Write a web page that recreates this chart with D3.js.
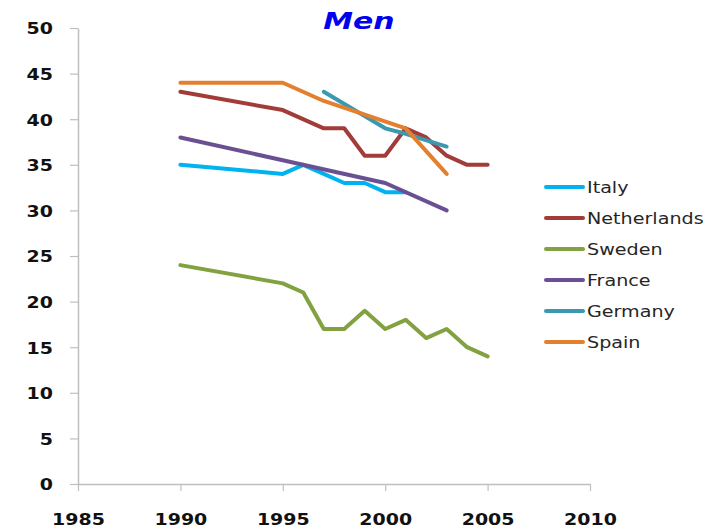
<!DOCTYPE html>
<html>
<head>
<meta charset="utf-8">
<script src="https://cdn.jsdelivr.net/npm/d3@7"></script>
<style>
  html, body { margin: 0; padding: 0; background: #fff; }
  svg { display: block; }
</style>
</head>
<body>
<script>
const seriesNames = ["Italy", "Netherlands", "Sweden", "France", "Germany", "Spain"];
const seriesColors = ["#00b2ef", "#a23c38", "#82a242", "#6a5092", "#3a98b0", "#e2802f"];

const italyYears = [1990, 1995, 1996, 1997, 1998, 1999, 2000, 2001];
const italyValues = [35, 34, 35, 34, 33, 33, 32, 32];

const netherlandsYears = [1990, 1995, 1997, 1998, 1999, 2000, 2001, 2002, 2003, 2004, 2005];
const netherlandsValues = [43, 41, 39, 39, 36, 36, 39, 38, 36, 35, 35];

const swedenYears = [1990, 1995, 1996, 1997, 1998, 1999, 2000, 2001, 2002, 2003, 2004, 2005];
const swedenValues = [24, 22, 21, 17, 17, 19, 17, 18, 16, 17, 15, 14];

const franceYears = [1990, 1995, 2000, 2003];
const franceValues = [38, 35.5, 33, 30];

const germanyYears = [1997, 2000, 2001, 2003];
const germanyValues = [43, 39, 38.4, 37];

const spainYears = [1990, 1995, 1997, 2001, 2003];
const spainValues = [44, 44, 42, 39, 34];

const xTicks = [1985, 1990, 1995, 2000, 2005, 2010];
const yTicks = [0, 5, 10, 15, 20, 25, 30, 35, 40, 45, 50];

const seriesYears = [italyYears, netherlandsYears, swedenYears, franceYears, germanyYears, spainYears];
const seriesValues = [italyValues, netherlandsValues, swedenValues, franceValues, germanyValues, spainValues];

const W = 709, H = 530;
const svg = d3.select("body").append("svg").attr("width", W).attr("height", H);

const x = d3.scaleLinear().domain([1985, 2010]).range([78, 590]);
const y = d3.scaleLinear().domain([0, 50]).range([484, 28]);

const axisColor = "#bfbfbf";
const tickFont = "'DejaVu Sans', Verdana, sans-serif";

// Y axis
const gy = svg.append("g").attr("transform", `translate(${x(1985)},0)`)
  .call(d3.axisLeft(y).tickValues(yTicks).tickSize(8).tickSizeOuter(0).tickFormat(d3.format("d")));
gy.select(".domain").attr("stroke", axisColor).attr("stroke-width", 1.5);
gy.selectAll(".tick line").attr("stroke", axisColor).attr("stroke-width", 1.2);
gy.selectAll(".tick text")
  .attr("x", null).attr("dy", "0.36em")
  .attr("transform", "translate(-25,0) scale(1.15,1)")
  .attr("text-anchor", "end")
  .style("font-family", tickFont).style("font-size", "16.5px").style("font-weight", "bold")
  .attr("fill", "#111");

// X axis
const gx = svg.append("g").attr("transform", `translate(0,${y(0)})`)
  .call(d3.axisBottom(x).tickValues(xTicks).tickSize(7).tickSizeOuter(0).tickFormat(d3.format("d")));
gx.select(".domain").attr("stroke", axisColor).attr("stroke-width", 1.5);
gx.selectAll(".tick line").attr("stroke", axisColor).attr("stroke-width", 1.2);
gx.selectAll(".tick text")
  .attr("y", null).attr("dy", null)
  .attr("transform", "translate(0,41) scale(1.15,1)")
  .attr("text-anchor", "middle")
  .style("font-family", tickFont).style("font-size", "16.5px").style("font-weight", "bold")
  .attr("fill", "#111");

// Lines
const line = d3.line().x(d => x(d[0])).y(d => y(d[1]));
seriesNames.forEach((name, i) => {
  const pts = seriesYears[i].map((yr, j) => [yr, seriesValues[i][j]]);
  svg.append("path").datum(pts)
    .attr("d", line)
    .attr("fill", "none")
    .attr("stroke", seriesColors[i])
    .attr("stroke-width", 4)
    .attr("stroke-linejoin", "round")
    .attr("stroke-linecap", "round");
});

// Legend
const legend = svg.append("g").attr("transform", "translate(546,187)");
seriesNames.forEach((name, i) => {
  const g = legend.append("g").attr("transform", `translate(0,${i * 31})`);
  g.append("line").attr("x1", 0).attr("x2", 37).attr("y1", 0).attr("y2", 0)
    .attr("stroke", seriesColors[i]).attr("stroke-width", 4).attr("stroke-linecap", "round");
  g.append("text")
    .attr("transform", "translate(41,0) scale(1.16,1)")
    .attr("dy", "0.36em")
    .style("font-family", tickFont).style("font-size", "16.5px")
    .attr("fill", "#262626")
    .text(name);
});

// Title
svg.append("text")
  .attr("transform", "translate(359,29) scale(1.3,1)")
  .attr("text-anchor", "middle")
  .style("font-family", tickFont).style("font-size", "23px")
  .style("font-weight", "bold").style("font-style", "italic")
  .attr("fill", "#0000ee")
  .text("Men");
</script>
</body>
</html>
